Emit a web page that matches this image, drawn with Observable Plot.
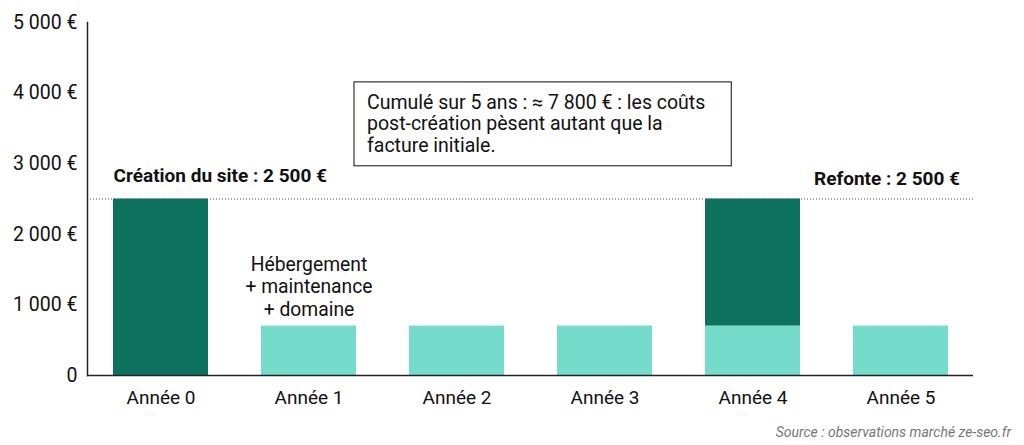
<!DOCTYPE html>
<html>
<head>
<meta charset="utf-8">
<script src="https://cdn.jsdelivr.net/npm/d3@7"></script>
<script src="https://cdn.jsdelivr.net/npm/@observablehq/plot@0.6"></script>
<style>
  html, body { margin: 0; padding: 0; background: #fff; }
  body { width: 1024px; height: 445px; overflow: hidden; font-family: Roboto, sans-serif; }
  #caption { font: italic 14px Roboto, sans-serif; color: #777; text-align: right; padding-right: 13px; margin-top: 14px; }
</style>
</head>
<body>
<div id="chart"></div>
<div id="caption">Source : observations marché ze-seo.fr</div>
<script>
const years = ["Année 0", "Année 1", "Année 2", "Année 3", "Année 4", "Année 5"];
const creation = [2500, 0, 0, 0, 0, 0];
const recurring = [0, 700, 700, 700, 700, 700];
const refonte = [0, 0, 0, 0, 1800, 0];
const yTicks = [0, 1000, 2000, 3000, 4000, 5000];
const threshold = 2500;
const labelCreation = "Création du site : 2 500 €";
const labelRefonte = "Refonte : 2 500 €";
const labelRecurring = "Hébergement\n+ maintenance\n+ domaine";
const noteText = "Cumulé sur 5 ans : ≈ 7 800 € : les coûts\npost-création pèsent autant que la\nfacture initiale.";

const rows = [];
years.forEach((y, i) => {
  rows.push({year: y, type: "Récurrent", value: recurring[i]});
  rows.push({year: y, type: "Ponctuel", value: creation[i] + refonte[i]});
});

const fmt = d => d === 0 ? "0" : d3.format(",")(d).replace(/,/g, "\u00a0") + "\u00a0€";

const chart = Plot.plot({
  width: 1024,
  height: 410,
  marginLeft: 87,
  marginRight: 51,
  marginTop: 22,
  marginBottom: 35,
  style: {fontFamily: "Roboto, sans-serif", fontSize: "19px", color: "#111", background: "#fff"},
  x: {domain: years, paddingInner: 0.36, paddingOuter: 0.16, label: null},
  y: {domain: [0, 5000], ticks: yTicks, label: null},
  color: {domain: ["Récurrent", "Ponctuel"], range: ["#75dccb", "#0e715e"]},
  marks: [
    Plot.barY(rows, {x: "year", y: "value", fill: "type", order: ["Récurrent", "Ponctuel"]}),
    Plot.ruleY([threshold], {stroke: "#555", strokeDasharray: "1,2", strokeWidth: 1.2}),
    Plot.axisY({ticks: yTicks, tickSize: 0, tickPadding: 10, tickFormat: fmt, fontSize: 19.5, label: null}),
    Plot.axisX({tickSize: 0, tickPadding: 15, fontSize: 19, label: null}),
    Plot.frame({anchor: "left", stroke: "#222", strokeWidth: 1.5}),
    Plot.ruleY([0], {stroke: "#222", strokeWidth: 1.5}),
    Plot.text([labelCreation], {x: () => years[0], y: () => threshold, text: d => d, textAnchor: "start", dx: -47.5, dy: -23, fontWeight: "bold", fontSize: 19, fill: "#111"}),
    Plot.text([labelRefonte], {x: () => years[5], y: () => threshold, text: d => d, textAnchor: "end", dx: 59, dy: -20, fontWeight: "bold", fontSize: 19, fill: "#111"}),
    Plot.text([labelRecurring], {x: () => years[1], y: () => recurring[1], text: d => d, textAnchor: "middle", lineAnchor: "middle", lineHeight: 1.18, dy: -40, fontSize: 19.3, fill: "#111"}),
    Plot.text([noteText], {x: () => years[2], y: () => 3570, text: d => d, textAnchor: "start", lineAnchor: "middle", lineHeight: 1.1, dx: -90, fontSize: 19.5, fill: "#111", className: "note"})
  ]
});
document.getElementById("chart").appendChild(chart);

// Draw a box around the note text (inside the same group so it shares its transform)
const noteG = chart.querySelector("g.note") || [...chart.querySelectorAll("g[aria-label='text']")].pop();
if (noteG) {
  const bb = noteG.getBBox();
  const rect = document.createElementNS("http://www.w3.org/2000/svg", "rect");
  rect.setAttribute("x", bb.x - 13);
  rect.setAttribute("y", bb.y - 9);
  rect.setAttribute("width", bb.width + 13 + 26);
  rect.setAttribute("height", bb.height + 18);
  rect.setAttribute("fill", "#fff");
  rect.setAttribute("stroke", "#333");
  rect.setAttribute("stroke-width", "1.2");
  noteG.insertBefore(rect, noteG.firstChild);
}
</script>
</body>
</html>
